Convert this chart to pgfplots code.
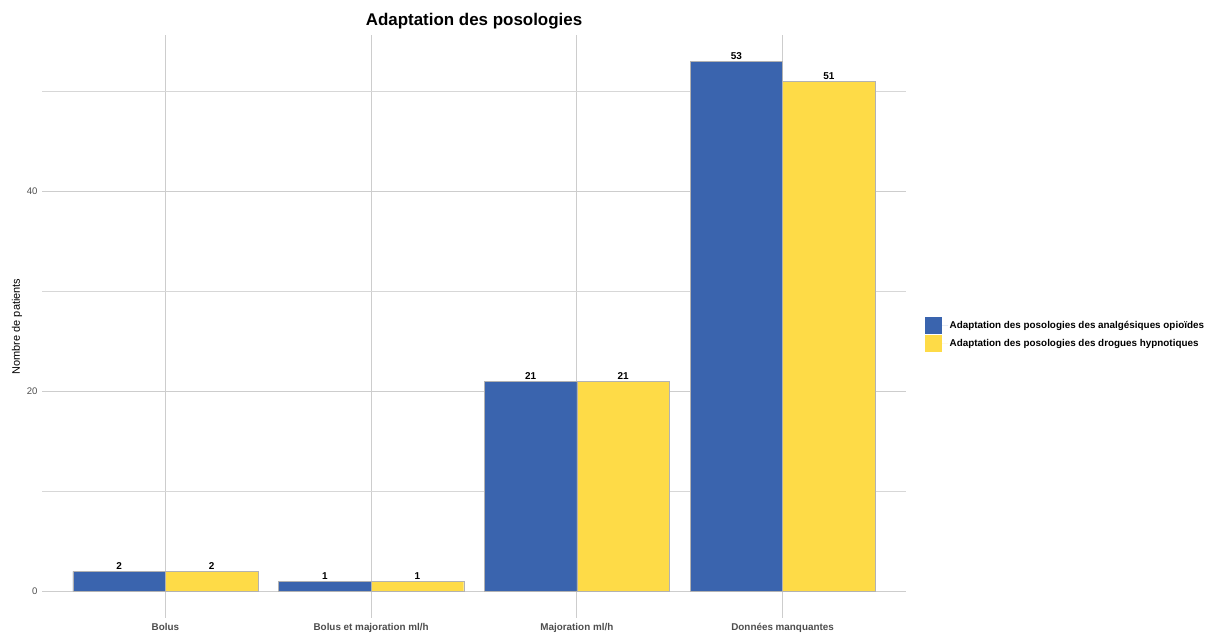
\documentclass[border=0pt]{standalone}
\usepackage{pgfplots}
\pgfplotsset{compat=1.18}
\usepackage{fontspec}
\setmainfont{Liberation Sans}
\definecolor{cblue}{RGB}{58,100,174}
\definecolor{cyellow}{RGB}{254,219,71}
\definecolor{gridmaj}{RGB}{205,205,205}
\definecolor{gridmin}{RGB}{215,215,215}
\definecolor{ticktext}{RGB}{77,77,77}
\begin{document}
\begin{tikzpicture}
\begin{axis}[
  scale only axis,
  width=864bp, height=583bp,
  at={(0,0)}, anchor=south west,
  xmin=0.4, xmax=4.6,
  ymin=-2.65, ymax=55.65,
  xtick={1,2,3,4},
  xticklabels={Bolus,Bolus et majoration ml/h,Majoration ml/h,Données manquantes},
  ytick={0,20,40},
  minor ytick={10,30,50},
  xmajorgrids, ymajorgrids, yminorgrids,
  major grid style={gridmaj, line width=1.1bp},
  minor grid style={gridmin, line width=1.0bp},
  axis line style={draw=none},
  tick style={draw=none},
  /pgf/number format/assume math mode=true,
  xticklabel style={font=\fontsize{9.9}{11}\selectfont\bfseries, text=ticktext, yshift=3bp, text height=7.5bp, text depth=2bp, anchor=north},
  yticklabel style={font=\fontsize{9.6}{11}\selectfont, text=ticktext, xshift=-1bp},
  ylabel={Nombre de patients},
  ylabel style={font=\fontsize{11}{12}\selectfont, at={(axis description cs:-0.029,0.5)}, anchor=center},
  title={Adaptation des posologies},
  title style={font=\fontsize{17}{19}\selectfont\bfseries, at={(axis description cs:0.5,1.014)}, anchor=center},
  ybar=0pt,
  bar width=0.45,
  nodes near coords,
  every node near coord/.append style={font=\fontsize{10}{11}\selectfont\bfseries, text=black, inner sep=2bp},
  legend style={at={(axis description cs:1.022,0.486)}, anchor=west, draw=none, fill=none,
     font=\fontsize{9.9}{11}\selectfont\bfseries, inner sep=0pt, row sep=1bp,
     nodes={inner sep=1.5bp}},
  legend cell align=left,
  legend image code/.code={\fill[#1, draw=none] (0bp,-8.5bp) rectangle (17bp,8.5bp); \path[draw=none] (0bp,0bp) -- (23bp,0bp);},
]
\addplot[fill=cblue, draw=gray!60, line width=0.4bp, bar shift=-0.225] coordinates {(1,2) (2,1) (3,21) (4,53)};
\addplot[fill=cyellow, draw=gray!60, line width=0.4bp, bar shift=0.225] coordinates {(1,2) (2,1) (3,21) (4,51)};
\legend{Adaptation des posologies des analgésiques opioïdes, Adaptation des posologies des drogues hypnotiques}
\end{axis}
\path (-42bp,-15bp) rectangle (1168bp,618bp);
\end{tikzpicture}
\end{document}
